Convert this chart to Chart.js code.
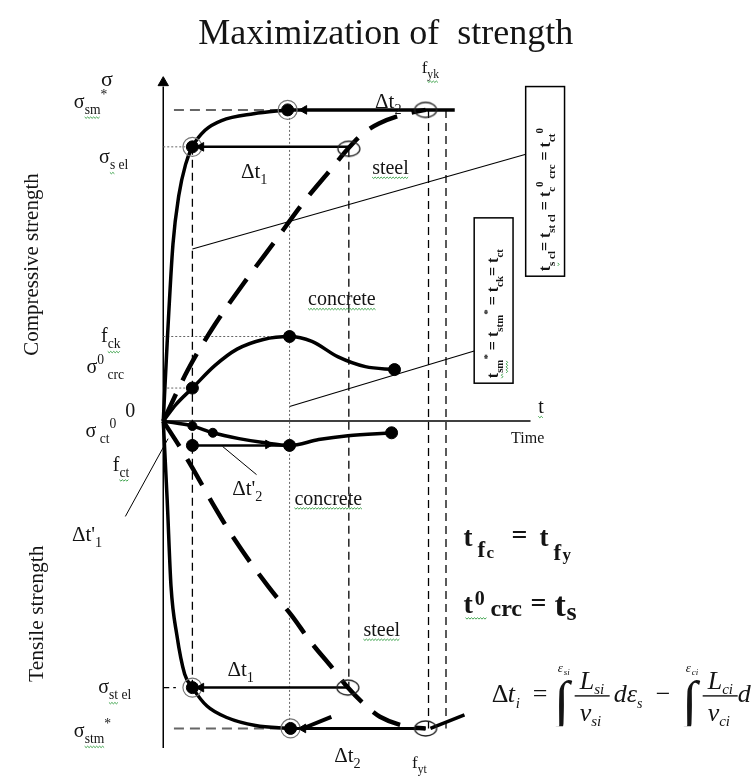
<!DOCTYPE html>
<html>
<head>
<meta charset="utf-8">
<title>Maximization of strength</title>
<script src="https://cdn.jsdelivr.net/npm/chart.js@4.4.1/dist/chart.umd.min.js"></script>
<style>
  html, body { margin: 0; padding: 0; background: #fff; }
  #wrap { position: relative; width: 755px; height: 780px; }
</style>
</head>
<body>
<div id="wrap"><canvas id="diagram"></canvas></div>
<script>
// time t (x) and stress σ (y) in diagram units, origin where the axes cross
const tRange = [-15.7, 59.8];
const sRange = [-35.8, 42.2];

// steel, compression and tension (solid = σ(t) of the bar)
const steelCompT = [0, 0.4, 1.0, 1.6, 2.3, 3.0, 4.3, 6.0, 9.3, 12.8];
const steelCompS = [0, 8, 18.2, 23.2, 26.4, 28.2, 29.9, 30.9, 31.6, 32.0];
const steelTensT = [0, 0.4, 0.8, 1.4, 2.2, 3.0, 4.5, 6.6, 9.5, 13.1];
const steelTensS = [0, -8, -17.0, -22.0, -26.0, -27.4, -29.3, -30.5, -31.3, -31.6];

// steel, slow loading (dashed)
const steelCompDashT = [0, 2.5, 5.3, 8.3, 11.5, 14.6, 17.1, 19.1, 20.6, 22.2, 25.0, 27.0];
const steelCompDashS = [0, 5.2, 9.9, 14.2, 18.5, 22.7, 25.7, 28.1, 29.6, 30.6, 31.6, 32.0];
const steelTensDashT = [0, 1.8, 3.0, 5.1, 7.3, 10.8, 13.3, 15.1, 17.5, 19.0, 21.0, 22.3, 25.0, 27.0];
const steelTensDashS = [0, -2.8, -4.8, -8.5, -12.1, -17.0, -20.1, -22.6, -25.5, -27.4, -29.4, -30.4, -31.4, -31.6];

// concrete
const concreteCompT = [0, 1.3, 3.0, 5.3, 7.6, 10.3, 13.0, 15.3, 18.0, 20.8, 23.8];
const concreteCompS = [0, 1.7, 3.4, 5.7, 7.4, 8.4, 8.7, 8.2, 6.6, 5.6, 5.3];
const concreteTensT = [0, 3.0, 5.1, 7.8, 10.3, 13.0, 16.0, 19.0, 23.5];
const concreteTensS = [0, -0.5, -1.2, -1.8, -2.2, -2.5, -1.9, -1.5, -1.2];

// marked states
const steelDotT = [3.0, 12.8, 3.0, 13.1];
const steelDotS = [28.2, 32.0, -27.4, -31.6];
const steelRingT = [19.1, 27.0, 19.0, 27.0];
const steelRingS = [28.0, 32.0, -27.4, -31.6];
const concreteDotT = [3.0, 13.0, 23.8, 13.0, 23.5, 3.0];
const concreteDotS = [3.4, 8.7, 5.3, -2.5, -1.2, -2.5];
const concreteSmallT = [5.1, 3.0];
const concreteSmallS = [-1.2, -0.5];

// Δt arrows (left-pointing heads) and the one right-pointing head on concrete
const arrowLeftT = [3.9, 14.5, 3.9, 14.4];
const arrowLeftS = [28.2, 32.0, -27.4, -31.6];
const arrowRightT = [10.8];
const arrowRightS = [-2.4];

const SERIF = '"Liberation Serif", "Times New Roman", serif';
const INK = '#141414';

const xy = (ts, ss) => ts.map((t, i) => ({ x: t, y: ss[i] }));

function path(ts, ss, style) {
    return Object.assign({
        data: xy(ts, ss), showLine: true, fill: false,
        pointRadius: 0, pointHoverRadius: 0,
        borderColor: '#000', borderWidth: 1.2
    }, style);
}

function marks(ts, ss, style) {
    return Object.assign({
        data: xy(ts, ss), showLine: false,
        pointRadius: 6, pointHoverRadius: 0,
        pointBackgroundColor: '#000', pointBorderColor: '#000', pointBorderWidth: 1
    }, style);
}

// open ellipse used for the yield / elastic limit marks
function ringImage(rx, ry) {
    const c = document.createElement('canvas');
    c.width = rx * 2 + 4;
    c.height = ry * 2 + 4;
    const g = c.getContext('2d');
    g.strokeStyle = '#222';
    g.lineWidth = 1.3;
    g.beginPath();
    g.ellipse(c.width / 2, c.height / 2, rx, ry, 0, 0, Math.PI * 2);
    g.stroke();
    return c;
}

const dashThin = { borderWidth: 1.3, borderDash: [8, 5] };
const dotted = { borderWidth: 1, borderDash: [2, 2], borderColor: '#666' };
const grayDash = { borderWidth: 2, borderDash: [10, 6], borderColor: '#666' };
const thick = { borderWidth: 3.5, cubicInterpolationMode: 'monotone' };
const longDash = { borderWidth: 4.5, borderDash: [30, 15], cubicInterpolationMode: 'monotone' };

const datasets = [
    marks([0], [34.8], { pointStyle: 'triangle', pointRadius: 6 }),
    marks(arrowLeftT, arrowLeftS, { pointStyle: 'triangle', pointRotation: -90, pointRadius: 5 }),
    marks(arrowRightT, arrowRightS, { pointStyle: 'triangle', pointRotation: 90, pointRadius: 5 }),
    marks(steelDotT, steelDotS, { pointRadius: 6 }),
    marks(steelDotT, steelDotS, { pointRadius: 9.5, pointBackgroundColor: 'rgba(0,0,0,0)', pointBorderColor: '#777', pointBorderWidth: 1.2 }),
    marks(steelRingT, steelRingS, { pointStyle: ringImage(11, 7.5) }),
    marks(concreteDotT, concreteDotS, { pointRadius: 6 }),
    marks(concreteSmallT, concreteSmallS, { pointRadius: 4.5 }),

    path(steelCompT, steelCompS, thick),
    path(steelTensT, steelTensS, thick),
    path(concreteCompT, concreteCompS, thick),
    path(concreteTensT, concreteTensS, thick),
    path(steelCompDashT, steelCompDashS, longDash),
    path(steelTensDashT, steelTensDashS, longDash),

    // Δt lines
    path([3.0, 19.1], [28.2, 28.2], { borderWidth: 2.5 }),
    path([12.8, 30.0], [32.0, 32.0], { borderWidth: 3.5 }),
    path([3.0, 19.0], [-27.4, -27.4], { borderWidth: 2.5 }),
    path([13.1, 27.0], [-31.6, -31.6], { borderWidth: 3 }),
    path([27.5, 31.0], [-31.6, -30.2], { borderWidth: 3.5 }),
    path([14.6, 17.3], [-31.5, -30.4], { borderWidth: 4 }),
    path([3.0, 13.0], [-2.5, -2.5], { borderWidth: 2.5 }),

    // guide lines
    path([3.0, 3.0], [28.2, -27.4], dashThin),
    path([19.1, 19.1], [28.0, -27.4], dashThin),
    path([27.3, 27.3], [32.0, -31.6], dashThin),
    path([29.1, 29.1], [32.0, -31.6], dashThin),
    path([1.1, 12.8], [32.0, 32.0], grayDash),
    path([1.1, 13.1], [-31.6, -31.6], grayDash),
    path([13.0, 13.0], [32.0, -31.6], dotted),
    path([0, 3.0], [28.2, 28.2], dotted),
    path([0, 13.0], [8.7, 8.7], dotted),
    path([0, 3.0], [3.4, 3.4], dotted),
    path([0, 1.3], [-27.4, -27.4], { borderWidth: 1.2, borderDash: [6, 4] }),

    // leaders to the notes
    path([3.0, 37.5], [17.7, 27.5], { borderWidth: 1.1 }),
    path([13.0, 32.0], [1.5, 7.2], { borderWidth: 1.1 }),
    path([-3.9, 0.5], [-9.8, -1.8], { borderWidth: 1 }),
    path([6.1, 9.6], [-2.6, -5.5], { borderWidth: 1 }),

    // axes
    path([0, 0], [-33.6, 34.4], { borderWidth: 1.5 }),
    path([0, 37.8], [0, 0], { borderWidth: 1.5 })
];

// text: anchor is left end of the baseline, in diagram units
// run = [text, 'b' subscript | 'p' superscript, wavy underline]
const labels = [
    { t: -6.4, s: 34.5, size: 22, runs: [['σ']] },
    { t: -9.2, s: 32.2, size: 20, runs: [['σ'], ['sm', 'b', 1], ['*', 'p']] },
    { t: -6.6, s: 26.5, size: 20, runs: [['σ'], ['s', 'b', 1], [' el', 'b']] },
    { t: -6.4, s: 8.1, size: 20, runs: [['f'], ['ck', 'b', 1]] },
    { t: -7.9, s: 4.9, size: 20, runs: [['σ'], ['0', 'p'], [' crc', 'b']] },
    { t: -3.9, s: 0.4, size: 20, runs: [['0']] },
    { t: -8.0, s: -1.6, size: 20, runs: [['σ'], [' ct', 'b'], ['0', 'p']] },
    { t: -5.2, s: -5.1, size: 20, runs: [['f'], ['ct', 'b', 1]] },
    { t: -9.4, s: -12.3, size: 21, runs: [["Δt'"], ['1', 'b']] },
    { t: -6.7, s: -28.0, size: 20, runs: [['σ'], ['st', 'b', 1], [' el', 'b']] },
    { t: -9.2, s: -32.5, size: 20, runs: [['σ'], ['stm', 'b', 1], ['*', 'p']] },
    { t: 8.0, s: 25.0, size: 21, runs: [['Δt'], ['1', 'b']] },
    { t: 6.6, s: -26.2, size: 21, runs: [['Δt'], ['1', 'b']] },
    { t: 21.8, s: 32.2, size: 21, runs: [['Δt'], ['2', 'b']] },
    { t: 17.6, s: -35.0, size: 21, runs: [['Δt'], ['2', 'b']] },
    { t: 26.6, s: 35.8, size: 17, runs: [['f'], ['yk', 'b', 1]] },
    { t: 25.6, s: -35.7, size: 17, runs: [['f'], ['yt', 'b']] },
    { t: 21.5, s: 25.4, size: 20, runs: [['steel', '', 1]] },
    { t: 20.6, s: -22.1, size: 20, runs: [['steel', '', 1]] },
    { t: 14.9, s: 11.9, size: 20, runs: [['concrete', '', 1]] },
    { t: 13.5, s: -8.6, size: 20, runs: [['concrete', '', 1]] },
    { t: 7.1, s: -7.6, size: 21, runs: [["Δt'"], ['2', 'b']] },
    { t: 38.6, s: 0.8, size: 20, runs: [['t', '', 1]] },
    { t: 35.8, s: -2.3, size: 16, runs: [['Time']] }
];

const sideTitles = [
    { t: -13.5, s: 16.1, size: 21, text: 'Compressive strength' },
    { t: -13.0, s: -19.8, size: 21.5, text: 'Tensile strength' }
];

const notes = [
    { t0: 37.3, t1: 41.3, s0: 34.4, s1: 14.9, size: 16,
      runs: [['t'], ['s', 'b', 1], [' cl', 'b'], ['= '], ['t'], ['st cl', 'b'], [' = '], ['t'], ['c', 'b'], ['0', 'p'], [' crc', 'b'], [' = '], ['t'], ['ct', 'b'], ['0', 'p']] },
    { t0: 32.0, t1: 36.0, s0: 20.9, s1: 3.9, size: 16,
      runs: [['t', '', 1], ['sm', 'b', 1], ['*', 'p'], [' = '], ['t'], ['stm', 'b'], ['*', 'p'], [' = '], ['t'], ['ck', 'b'], ['= '], ['t'], ['ct', 'b']] }
];

const titleAt = { t: 22.9, s: 38.8 };
const formulaAt = [{ t: 30.9, s: -12.8 }, { t: 30.9, s: -19.7 }, { t: 33.8, s: -28.9 }];

function font(size, style) {
    return `${style || ''} ${size}px ${SERIF}`.trim();
}

function squiggle(ctx, x, y, w) {
    ctx.save();
    ctx.strokeStyle = '#3fa34d';
    ctx.lineWidth = 1;
    ctx.beginPath();
    let up = true;
    for (let i = 0; i <= w; i += 1.5) {
        const yy = y + (up ? 0 : 1.4);
        if (i === 0) ctx.moveTo(x + i, yy); else ctx.lineTo(x + i, yy);
        up = !up;
    }
    ctx.stroke();
    ctx.restore();
}

function drawRuns(ctx, x, y, runs, size, style) {
    let cx = x;
    runs.forEach(([txt, kind, wavy]) => {
        const sz = kind ? size * 0.68 : size;
        const dy = kind === 'b' ? size * 0.3 : kind === 'p' ? -size * 0.45 : 0;
        ctx.font = font(sz, style);
        ctx.fillText(txt, cx, y + dy);
        const w = ctx.measureText(txt).width;
        if (wavy) squiggle(ctx, cx, y + dy + 3, w);
        cx += w;
    });
    return cx - x;
}

function text(ctx, str, x, y, size, style) {
    ctx.font = font(size, style);
    ctx.fillText(str, x, y);
    return ctx.measureText(str).width;
}

// t_fc = t_fy
function formulaYield(ctx, X, Y) {
    text(ctx, 't', X, Y, 27, 'bold');
    text(ctx, 'f', X + 14, Y + 11, 23, 'bold');
    text(ctx, 'c', X + 23, Y + 12, 17, 'bold');
    text(ctx, '=', X + 48, Y - 2, 28, 'bold');
    text(ctx, 't', X + 76, Y, 27, 'bold');
    text(ctx, 'f', X + 90, Y + 14, 23, 'bold');
    text(ctx, 'y', X + 99, Y + 14, 17, 'bold');
}

// t0 crc = ts
function formulaCrack(ctx, X, Y) {
    const w = text(ctx, 't', X, Y, 28, 'bold');
    squiggle(ctx, X + 2, Y + 5, 22);
    text(ctx, '0', X + w + 2, Y - 8, 20, 'bold');
    text(ctx, 'crc', X + 27, Y + 3, 24, 'bold');
    text(ctx, '=', X + 67, Y - 1, 28, 'bold');
    text(ctx, 't', X + 91, Y + 3, 34, 'bold');
    text(ctx, 's', X + 103, Y + 7, 26, 'bold');
}

// Δt_i = ∫ L_si/v_si dε_s − ∫ L_ci/v_ci dε_c
function formulaDelay(ctx, X, Y) {
    ctx.save();
    ctx.beginPath();
    ctx.rect(X - 5, Y - 45, 300, 69);
    ctx.clip();
    text(ctx, 'Δ', X, Y, 26);
    text(ctx, 't', X + 16, Y, 26, 'italic');
    text(ctx, 'i', X + 24, Y + 6, 15, 'italic');
    text(ctx, '=', X + 41, Y, 26);
    const part = (x0, sub) => {
        text(ctx, '∫', X + x0, Y + 18, 56, 'italic');
        text(ctx, 'ε', X + x0 + 4, Y - 30, 13, 'italic');
        text(ctx, sub, X + x0 + 10, Y - 27, 9, 'italic');
        text(ctx, '0', X + x0, Y + 32, 12, 'italic');
        const fx = X + x0 + 21;
        ctx.fillRect(fx, Y - 7, 35, 1.4);
        let w = text(ctx, 'L', fx + 5, Y - 13, 26, 'italic');
        text(ctx, sub, fx + 5 + w, Y - 8, 15, 'italic');
        w = text(ctx, 'v', fx + 5, Y + 19, 26, 'italic');
        text(ctx, sub, fx + 5 + w, Y + 24, 15, 'italic');
    };
    part(62, 'si');
    let w = text(ctx, 'd', X + 122, Y, 26, 'italic');
    w += text(ctx, 'ε', X + 122 + w, Y, 26, 'italic');
    text(ctx, 's', X + 122 + w, Y + 6, 14, 'italic');
    text(ctx, '−', X + 164, Y, 26);
    part(190, 'ci');
    text(ctx, 'd', X + 246, Y, 26, 'italic');
    ctx.restore();
}

const annotate = {
    id: 'annotate',
    afterDatasetsDraw(chart) {
        const { ctx, scales: { x, y } } = chart;
        const px = t => x.getPixelForValue(t);
        const py = s => y.getPixelForValue(s);
        ctx.save();
        ctx.fillStyle = INK;
        ctx.textBaseline = 'alphabetic';

        ctx.textAlign = 'center';
        text(ctx, 'Maximization of  strength', px(titleAt.t), py(titleAt.s), 36);
        ctx.textAlign = 'left';

        labels.forEach(l => drawRuns(ctx, px(l.t), py(l.s), l.runs, l.size));

        sideTitles.forEach(l => {
            ctx.save();
            ctx.translate(px(l.t), py(l.s));
            ctx.rotate(-Math.PI / 2);
            ctx.textAlign = 'center';
            ctx.textBaseline = 'middle';
            text(ctx, l.text, 0, 0, l.size);
            ctx.restore();
        });

        // boxed notes, written bottom to top
        notes.forEach(b => {
            const x0 = px(b.t0), x1 = px(b.t1), y0 = py(b.s0), y1 = py(b.s1);
            ctx.fillStyle = '#fff';
            ctx.fillRect(x0, y0, x1 - x0, y1 - y0);
            ctx.strokeStyle = '#000';
            ctx.lineWidth = 1.5;
            ctx.strokeRect(x0, y0, x1 - x0, y1 - y0);
            ctx.fillStyle = INK;
            ctx.save();
            ctx.globalAlpha = 0;
            const w = drawRuns(ctx, 0, -1000, b.runs, b.size, 'bold');
            ctx.restore();
            const fit = Math.min(1, (y1 - y0 - 10) / w);
            ctx.save();
            ctx.translate((x0 + x1) / 2 + b.size * 0.3, y1 - 5);
            ctx.rotate(-Math.PI / 2);
            ctx.scale(fit, 1);
            drawRuns(ctx, 0, 0, b.runs, b.size, 'bold');
            ctx.restore();
        });

        formulaYield(ctx, px(formulaAt[0].t), py(formulaAt[0].s));
        formulaCrack(ctx, px(formulaAt[1].t), py(formulaAt[1].s));
        formulaDelay(ctx, px(formulaAt[2].t), py(formulaAt[2].s));
        ctx.restore();
    }
};

new Chart(document.getElementById('diagram'), {
    type: 'scatter',
    data: { datasets },
    options: {
        responsive: true,
        maintainAspectRatio: false,
        animation: false,
        events: [],
        layout: { padding: 0 },
        elements: { line: { borderCapStyle: 'butt', tension: 0 } },
        plugins: {
            legend: { display: false },
            tooltip: { enabled: false },
            title: { display: false }
        },
        scales: {
            x: { type: 'linear', min: tRange[0], max: tRange[1], display: false },
            y: { type: 'linear', min: sRange[0], max: sRange[1], display: false }
        }
    },
    plugins: [annotate]
});
</script>
</body>
</html>
